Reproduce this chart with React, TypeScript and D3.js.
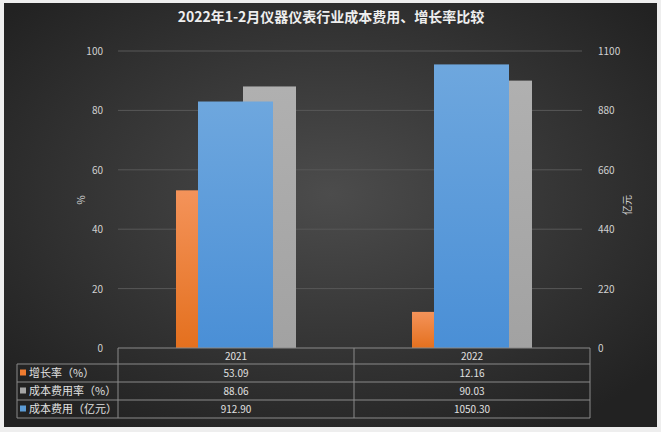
import * as d3 from 'd3';
import { useEffect, useRef } from 'react';

const categories = ['2021', '2022'];
const growthRate = [53.09, 12.16];
const costRate = [88.06, 90.03];
const costAmount = [912.9, 1050.3];
const leftTicks = [0, 20, 40, 60, 80, 100];
const rightTicks = [0, 220, 440, 660, 880, 1100];

const seriesNames = ['增长率（%）', '成本费用率（%）', '成本费用（亿元）'];
const seriesColors = ['#ee7b30', '#a5a5a5', '#5b9bd5'];

const W = 661;
const H = 432;

export default function App() {
  const ref = useRef<SVGSVGElement | null>(null);

  useEffect(() => {
    if (!ref.current) return;
    const svg = d3.select(ref.current);
    svg.selectAll('*').remove();

    const left = 118;
    const right = 590;
    const top = 51;
    const bottom = 348;
    const font = '"Noto Sans CJK SC", "Noto Sans", sans-serif';

    const defs = svg.append('defs');
    const bg = defs.append('radialGradient').attr('id', 'bg')
      .attr('cx', '50%').attr('cy', '45%').attr('r', '65%');
    bg.append('stop').attr('offset', '0%').attr('stop-color', '#4c4c4c');
    bg.append('stop').attr('offset', '100%').attr('stop-color', '#222222');

    const grads = [
      ['gOrange', '#f4935a', '#e4701e'],
      ['gGray', '#b0b0b0', '#a2a2a2'],
      ['gBlue', '#6ea7de', '#4a8fd6'],
    ];
    grads.forEach(([id, c0, c1]) => {
      const g = defs.append('linearGradient').attr('id', id)
        .attr('x1', 0).attr('y1', 0).attr('x2', 0).attr('y2', 1);
      g.append('stop').attr('offset', '0%').attr('stop-color', c0);
      g.append('stop').attr('offset', '100%').attr('stop-color', c1);
    });

    svg.append('rect').attr('width', W).attr('height', H).attr('fill', '#eeeeee');
    svg.append('rect').attr('x', 4).attr('y', 3).attr('width', 653).attr('height', 424)
      .attr('fill', 'url(#bg)');

    // title
    svg.append('text')
      .attr('x', 331).attr('y', 22)
      .attr('text-anchor', 'middle')
      .style('font-family', font)
      .style('font-size', '14px')
      .style('font-weight', 'bold')
      .attr('fill', '#eeeeee')
      .text('2022年1-2月仪器仪表行业成本费用、增长率比较');

    const y0 = d3.scaleLinear().domain([0, 100]).range([bottom, top]);
    const y1 = d3.scaleLinear().domain([0, 1100]).range([bottom, top]);
    const x = d3.scaleBand().domain(categories).range([left, right]);

    // gridlines
    svg.append('g').selectAll('line').data(leftTicks.slice(1)).join('line')
      .attr('x1', left).attr('x2', 582)
      .attr('y1', d => y0(d)).attr('y2', d => y0(d))
      .attr('stroke', '#585858').attr('stroke-width', 1);

    // axes labels
    svg.append('g').selectAll('text').data(leftTicks).join('text')
      .attr('x', 103).attr('y', d => y0(d) + 4)
      .attr('text-anchor', 'end')
      .style('font-family', font).style('font-size', '10px')
      .attr('fill', '#d0d0d0')
      .text(d => d);

    svg.append('g').selectAll('text').data(rightTicks).join('text')
      .attr('x', 598).attr('y', d => y1(d) + 4)
      .attr('text-anchor', 'start')
      .style('font-family', font).style('font-size', '10px')
      .attr('fill', '#d0d0d0')
      .text(d => d);

    svg.append('text')
      .attr('transform', 'translate(81,200) rotate(-90)')
      .attr('text-anchor', 'middle').attr('dy', '0.35em')
      .style('font-family', font).style('font-size', '10px')
      .attr('fill', '#d0d0d0').text('%');

    svg.append('text')
      .attr('transform', 'translate(627,205) rotate(-90)')
      .attr('text-anchor', 'middle').attr('dy', '0.35em')
      .style('font-family', font).style('font-size', '10px')
      .attr('fill', '#d0d0d0').text('亿元');

    // primary axis clustered bars
    const groupW = x.bandwidth() * (120 / 236);
    const sub = d3.scaleBand().domain(['rate', 'cost']).range([0, groupW]).paddingInner(0.209);
    const gx = (c: string) => (x(c) ?? 0) + (x.bandwidth() - groupW) / 2;

    svg.append('g').selectAll('rect').data(categories).join('rect')
      .attr('x', c => gx(c) + (sub('rate') ?? 0))
      .attr('width', sub.bandwidth())
      .attr('y', (_, i) => y0(growthRate[i]))
      .attr('height', (_, i) => bottom - y0(growthRate[i]))
      .attr('fill', 'url(#gOrange)');

    svg.append('g').selectAll('rect').data(categories).join('rect')
      .attr('x', c => gx(c) + (sub('cost') ?? 0))
      .attr('width', sub.bandwidth())
      .attr('y', (_, i) => y0(costRate[i]))
      .attr('height', (_, i) => bottom - y0(costRate[i]))
      .attr('fill', 'url(#gGray)');

    // secondary axis bar
    const blueW = x.bandwidth() * (75 / 236);
    svg.append('g').selectAll('rect').data(categories).join('rect')
      .attr('x', c => (x(c) ?? 0) + (x.bandwidth() - blueW) / 2 - 0.5)
      .attr('width', blueW)
      .attr('y', (_, i) => y1(costAmount[i]))
      .attr('height', (_, i) => bottom - y1(costAmount[i]))
      .attr('fill', 'url(#gBlue)');

    // data table
    const rowLines = [348, 364, 382, 400, 418];
    const tableLeft = 17;
    const lineColor = '#8a8a8a';
    const t = svg.append('g');

    t.append('line').attr('x1', left).attr('x2', right).attr('y1', bottom).attr('y2', bottom)
      .attr('stroke', lineColor);
    rowLines.slice(1).forEach(yy => {
      t.append('line').attr('x1', tableLeft).attr('x2', right).attr('y1', yy).attr('y2', yy)
        .attr('stroke', lineColor);
    });
    t.append('line').attr('x1', tableLeft).attr('x2', tableLeft)
      .attr('y1', rowLines[1]).attr('y2', rowLines[4]).attr('stroke', lineColor);
    [left, left + x.bandwidth(), right].forEach(xx => {
      t.append('line').attr('x1', xx).attr('x2', xx)
        .attr('y1', bottom).attr('y2', rowLines[4]).attr('stroke', lineColor);
    });

    const textStyle = (s: d3.Selection<SVGTextElement, unknown, null, undefined>) =>
      s.style('font-family', font).style('font-size', '10px').attr('fill', '#e0e0e0');

    categories.forEach(c => {
      t.append('text')
        .attr('x', (x(c) ?? 0) + x.bandwidth() / 2)
        .attr('y', (rowLines[0] + rowLines[1]) / 2 + 3.5)
        .attr('text-anchor', 'middle')
        .call(textStyle)
        .text(c);
    });

    const rows = [
      growthRate.map(v => v.toFixed(2)),
      costRate.map(v => v.toFixed(2)),
      costAmount.map(v => v.toFixed(2)),
    ];

    rows.forEach((vals, r) => {
      const cy = (rowLines[r + 1] + rowLines[r + 2]) / 2;
      t.append('rect')
        .attr('x', 20).attr('y', cy - 3.5).attr('width', 6).attr('height', 6)
        .attr('fill', seriesColors[r]);
      t.append('text')
        .attr('x', 29).attr('y', cy + 4)
        .call(textStyle)
        .style('font-size', '11px')
        .text(seriesNames[r]);
      vals.forEach((v, i) => {
        t.append('text')
          .attr('x', (x(categories[i]) ?? 0) + x.bandwidth() / 2)
          .attr('y', cy + 3.5)
          .attr('text-anchor', 'middle')
          .call(textStyle)
          .text(v);
      });
    });
  }, []);

  return (
    <div style={{ position: 'fixed', left: 0, top: 0 }}>
      <svg ref={ref} width={W} height={H} style={{ display: 'block' }} />
    </div>
  );
}
